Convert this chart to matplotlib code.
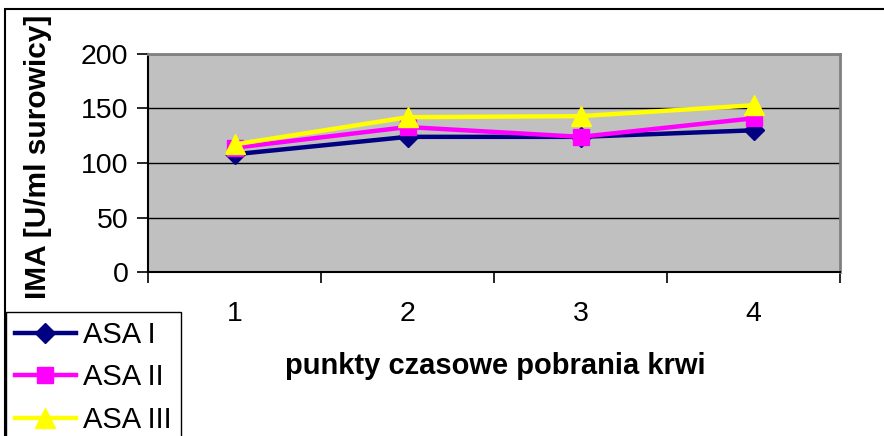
import matplotlib
matplotlib.use("Agg")
import matplotlib.pyplot as plt
from matplotlib.patches import Rectangle

categories = ["1", "2", "3", "4"]
asa1 = [108, 124, 124, 130]
asa2 = [114, 133, 124, 141]
asa3 = [117, 142, 143, 153]
series_names = ["ASA I", "ASA II", "ASA III"]
yticks = [0, 50, 100, 150, 200]

plt.rcParams['font.family'] = ['Liberation Sans', 'DejaVu Sans']

W, H = 884, 436
fig = plt.figure(figsize=(W / 100, H / 100), dpi=100)

# outer chart frame
fig.patches.append(Rectangle((5 / W, -0.1), 1.2, 1 - 9 / H + 0.1, transform=fig.transFigure,
                             fill=False, edgecolor='black', linewidth=1.5))

left, top, right, bottom = 148, 54, 840, 272
ax = fig.add_axes([left / W, 1 - bottom / H, (right - left) / W, (bottom - top) / H])
ax.set_facecolor('#c0c0c0')

x = list(range(len(categories)))
ax.plot(x, asa1, color='#000080', lw=3.2, marker='D', ms=10, zorder=3, label=series_names[0])
ax.plot(x, asa2, color='#ff00ff', lw=3.2, marker='s', ms=11, zorder=4, label=series_names[1])
ax.plot(x, asa3, color='#ffff00', lw=3.2, marker='^', ms=14, zorder=5, label=series_names[2])

ax.set_xlim(-0.5, len(categories) - 0.5)
ax.set_ylim(0, 200)
ax.set_yticks(yticks)
ax.set_yticklabels([str(v) for v in yticks], fontsize=20.5)
ax.yaxis.grid(True, color='black', linewidth=1.0)
ax.set_axisbelow(True)

# x ticks at category boundaries, labels at centers
ax.set_xticks([i - 0.5 for i in range(len(categories) + 1)])
ax.set_xticklabels([])
ax.set_xticks(x, minor=True)
ax.set_xticklabels(categories, minor=True, fontsize=20.5)
ax.tick_params(axis='x', which='minor', length=0, pad=21)
ax.tick_params(axis='x', which='major', length=8, width=1.2, direction='out')
ax.tick_params(axis='y', length=8, width=1.2, direction='out', pad=6)

for s in ['top', 'right']:
    ax.spines[s].set_color('#808080')
    ax.spines[s].set_linewidth(2)
for s in ['left', 'bottom']:
    ax.spines[s].set_color('black')
    ax.spines[s].set_linewidth(1.5)

fig.text(38 / W, 1 - 157 / H, "IMA [U/ml surowicy]", rotation=90, fontsize=21.5,
         fontweight='bold', ha='center', va='center')
fig.text(495 / W, 1 - 366 / H, "punkty czasowe pobrania krwi", fontsize=21,
         fontweight='bold', ha='center', va='center')

leg = fig.legend(loc='upper left', bbox_to_anchor=(6 / W, 1 - 312 / H), fontsize=21,
                 frameon=True, fancybox=False, edgecolor='black', framealpha=1,
                 borderpad=0.3, labelspacing=0.5, handlelength=2.1, handletextpad=0.25,
                 borderaxespad=0)
leg.get_frame().set_linewidth(1.0)

fig.savefig("out.png", dpi=100)
